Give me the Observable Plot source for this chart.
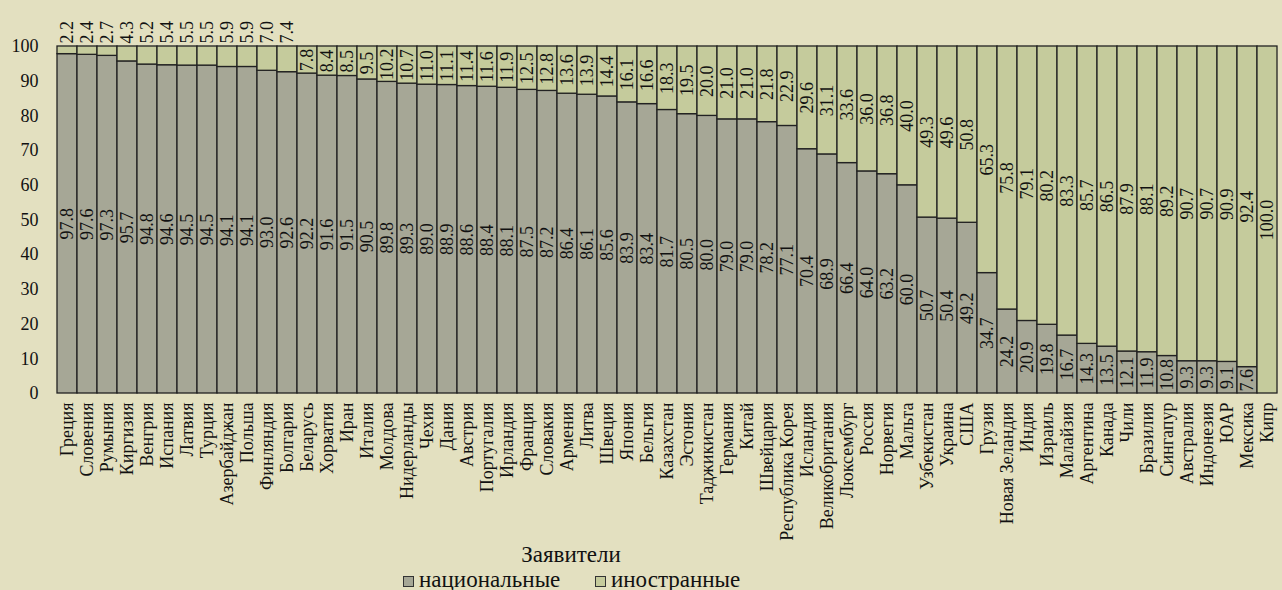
<!DOCTYPE html>
<html>
<head>
<meta charset="utf-8">
<script src="https://cdn.jsdelivr.net/npm/d3@7"></script>
<script src="https://cdn.jsdelivr.net/npm/@observablehq/plot@0.6"></script>
<style>
  html, body { margin: 0; padding: 0; background: #e3e0c0; }
  body { width: 1282px; height: 590px; overflow: hidden; font-family: 'Liberation Serif', serif; color: #111; }
  svg text { font-family: 'Liberation Serif', serif !important; }
  #chart svg { display: block; }
  #legend { position: relative; height: 38px; font-size: 23px; line-height: 23px; }
  #legend .title { position: absolute; left: 0; top: -9px; width: 1142px; text-align: center; white-space: nowrap; }
  #legend .item { position: absolute; top: 16px; white-space: nowrap; }
  #legend .sw { display: inline-block; width: 9px; height: 9px; border: 1px solid #333; margin-right: 5px; }
</style>
</head>
<body>
<div id="chart"></div>
<div id="legend"></div>
<script>
const countries = ["Греция","Словения","Румыния","Киргизия","Венгрия","Испания","Латвия","Турция","Азербайджан","Польша","Финляндия","Болгария","Беларусь","Хорватия","Иран","Италия","Молдова","Нидерланды","Чехия","Дания","Австрия","Португалия","Ирландия","Франция","Словакия","Армения","Литва","Швеция","Япония","Бельгия","Казахстан","Эстония","Таджикистан","Германия","Китай","Швейцария","Республика Корея","Исландия","Великобритания","Люксембург","Россия","Норвегия","Мальта","Узбекистан","Украина","США","Грузия","Новая Зеландия","Индия","Израиль","Малайзия","Аргентина","Канада","Чили","Бразилия","Сингапур","Австралия","Индонезия","ЮАР","Мексика","Кипр"];
const national = [97.8,97.6,97.3,95.7,94.8,94.6,94.5,94.5,94.1,94.1,93.0,92.6,92.2,91.6,91.5,90.5,89.8,89.3,89.0,88.9,88.6,88.4,88.1,87.5,87.2,86.4,86.1,85.6,83.9,83.4,81.7,80.5,80.0,79.0,79.0,78.2,77.1,70.4,68.9,66.4,64.0,63.2,60.0,50.7,50.4,49.2,34.7,24.2,20.9,19.8,16.7,14.3,13.5,12.1,11.9,10.8,9.3,9.3,9.1,7.6,0];
const foreign = [2.2,2.4,2.7,4.3,5.2,5.4,5.5,5.5,5.9,5.9,7.0,7.4,7.8,8.4,8.5,9.5,10.2,10.7,11.0,11.1,11.4,11.6,11.9,12.5,12.8,13.6,13.9,14.4,16.1,16.6,18.3,19.5,20.0,21.0,21.0,21.8,22.9,29.6,31.1,33.6,36.0,36.8,40.0,49.3,49.6,50.8,65.3,75.8,79.1,80.2,83.3,85.7,86.5,87.9,88.1,89.2,90.7,90.7,90.9,92.4,100.0];
const seriesNames = ["национальные", "иностранные"];
const yTicks = [0,10,20,30,40,50,60,70,80,90,100];
const colors = ["#a6a796", "#c5cb9c"];
const legendTitle = "Заявители";

const rows = [];
countries.forEach((c, i) => {
  rows.push({country: c, type: seriesNames[0], value: national[i], base: 0});
  rows.push({country: c, type: seriesNames[1], value: foreign[i], base: national[i]});
});
const fmt = d3.format(".1f");
const natLabels = rows.filter(d => d.type === seriesNames[0] && d.value > 0);
const forInside = rows.filter(d => d.type === seriesNames[1] && d.value >= 7.5);
const forAbove = rows.filter(d => d.type === seriesNames[1] && d.value < 7.5);

const chart = Plot.plot({
  width: 1282,
  height: 552,
  marginTop: 46,
  marginBottom: 159,
  marginLeft: 52,
  marginRight: 1,
  style: {background: "#e3e0c0", fontFamily: "'Liberation Serif', serif", fontSize: "18px", color: "#111", overflow: "visible"},
  x: {domain: countries, padding: 0, label: null, tickSize: 0, tickPadding: 9, tickRotate: -90},
  y: {domain: [0, 100], ticks: yTicks, label: null, tickSize: 0, tickPadding: 14},
  color: {domain: seriesNames, range: colors},
  marks: [
    Plot.barY(rows, {x: "country", y1: "base", y2: d => d.base + d.value, fill: "type", stroke: "#222", strokeWidth: 1.3}),
    Plot.text(natLabels, {x: "country", y: d => d.base + d.value / 2, text: d => fmt(d.value), rotate: -90, fill: "#111", fontSize: 18}),
    Plot.text(forInside, {x: "country", y: d => d.base + d.value / 2, text: d => fmt(d.value), rotate: -90, fill: "#111", fontSize: 18}),
    Plot.text(forAbove, {x: "country", y: 100, text: d => fmt(d.value), rotate: -90, textAnchor: "start", dy: -3, fill: "#111", fontSize: 18})
  ]
});
document.getElementById("chart").appendChild(chart);

const lg = document.getElementById("legend");
const t = document.createElement("div");
t.className = "title"; t.textContent = legendTitle; lg.appendChild(t);
const itemLeft = [403, 595];
seriesNames.forEach((n, i) => {
  const it = document.createElement("span"); it.className = "item"; it.style.left = itemLeft[i] + "px";
  const sw = document.createElement("span"); sw.className = "sw"; sw.style.background = colors[i];
  it.appendChild(sw);
  it.appendChild(document.createTextNode(n));
  lg.appendChild(it);
});
</script>
</body>
</html>
